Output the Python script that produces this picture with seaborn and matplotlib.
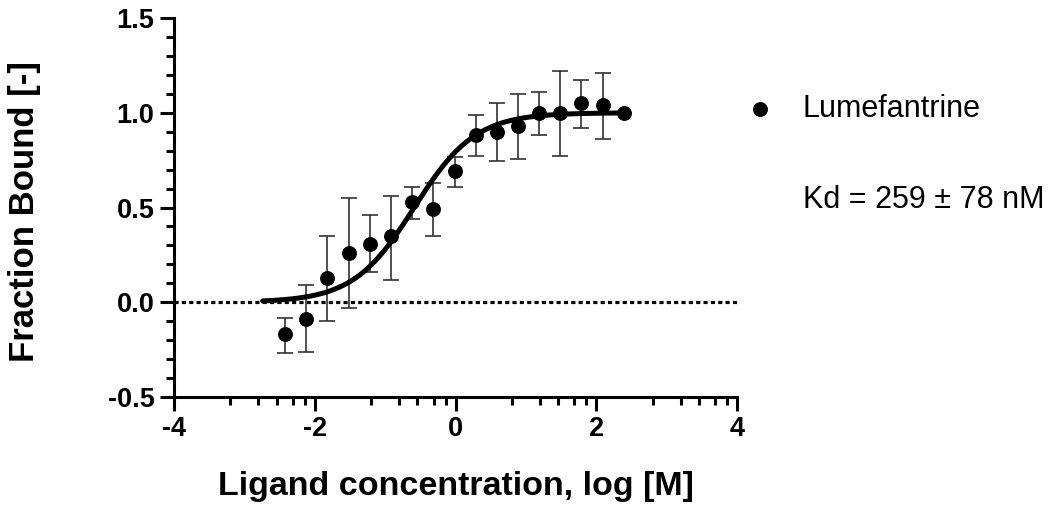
import numpy as np
import pandas as pd
import seaborn as sns
import matplotlib.pyplot as plt
from matplotlib.ticker import FixedLocator, MultipleLocator

# Data (log concentration vs fraction bound)
log_conc = [-2.42, -2.12, -1.82, -1.52, -1.22, -0.92, -0.62, -0.32, -0.01,
            0.29, 0.59, 0.89, 1.19, 1.49, 1.79, 2.09, 2.40]
frac_bound = [-0.17, -0.09, 0.13, 0.26, 0.31, 0.35, 0.53, 0.49, 0.69,
              0.88, 0.90, 0.93, 1.00, 1.00, 1.05, 1.04, 1.00]
err_upper = [-0.085, 0.09, 0.35, 0.55, 0.46, 0.56, 0.61, 0.63, 0.765,
             0.99, 1.05, 1.10, 1.11, 1.22, 1.175, 1.21, 1.00]
err_lower = [-0.27, -0.265, -0.10, -0.03, 0.16, 0.12, 0.44, 0.35, 0.61,
             0.77, 0.745, 0.755, 0.88, 0.77, 0.92, 0.86, 1.00]

series_name = 'Lumefantrine'
kd_text = 'Kd = 259 \u00b1 78 nM'
kd_value = 0.259          # same units as the x axis (log scale)
fit_range = (-2.74, 2.40)

x_major = [-4, -2, 0, 2, 4]
x_minor_offsets = [0.8, 1.2, 1.46, 1.69, 1.86]
y_major = [-0.5, 0.0, 0.5, 1.0, 1.5]

df = pd.DataFrame({'x': log_conc, 'y': frac_bound})
df['lo'] = np.array(frac_bound) - np.array(err_lower)
df['hi'] = np.array(err_upper) - np.array(frac_bound)

# fitted binding curve from the Kd
fit_x = np.linspace(fit_range[0], fit_range[1], 300)
fit_df = pd.DataFrame({'x': fit_x, 'y': 1 / (1 + kd_value / 10 ** fit_x)})

sns.set_style('ticks')
plt.rcParams['font.family'] = ['Liberation Sans', 'DejaVu Sans']
plt.rcParams['text.color'] = 'black'
plt.rcParams['axes.edgecolor'] = 'black'
plt.rcParams['xtick.color'] = 'black'
plt.rcParams['ytick.color'] = 'black'

fig = plt.figure(figsize=(10.5, 5.12), dpi=100)
ax = fig.add_axes([174 / 1050, 1 - 397 / 512, 563 / 1050, 379 / 512])

# zero line
ax.axhline(0, color='black', lw=2.3, dashes=(1.3, 1.0), zorder=1)

# error bars
ax.errorbar(df['x'], df['y'], yerr=[df['lo'], df['hi']], fmt='none',
            ecolor='#333333', elinewidth=1.2, capsize=5.5, capthick=1.2, zorder=2)

# fit curve
sns.lineplot(data=fit_df, x='x', y='y', color='black', lw=3.6, ax=ax, zorder=3)

# points
sns.scatterplot(data=df, x='x', y='y', color='black', s=115, edgecolor='black',
                linewidth=0, ax=ax, zorder=4, label=series_name)

ax.set_xlim(-4, 4)
ax.set_ylim(-0.5, 1.5)
ax.xaxis.set_major_locator(FixedLocator(x_major))
minor = [a + o for a in x_major[:-1] for o in x_minor_offsets]
ax.xaxis.set_minor_locator(FixedLocator(minor))
ax.yaxis.set_major_locator(FixedLocator(y_major))
ax.yaxis.set_minor_locator(MultipleLocator(0.1))
ax.set_yticklabels(['-0.5', '0.0', '0.5', '1.0', '1.5'])
ax.set_xticklabels(['-4', '-2', '0', '2', '4'])

for s in ['top', 'right']:
    ax.spines[s].set_visible(False)
for s in ['left', 'bottom']:
    ax.spines[s].set_linewidth(2.2)
    ax.spines[s].set_color('black')

ax.tick_params(which='major', length=10, width=2.2, direction='out',
               labelsize=19.5, pad=4, color='black', labelcolor='black')
ax.tick_params(which='minor', length=5.5, width=2.2, direction='out', color='black')
for lab in ax.get_xticklabels() + ax.get_yticklabels():
    lab.set_fontweight('bold')

ax.set_xlabel('')
ax.set_ylabel('')
fig.text(456 / 1050, 1 - 487 / 512, 'Ligand concentration, log [M]',
         fontsize=24.5, fontweight='bold', ha='center', va='center')
fig.text(25 / 1050, 1 - 211 / 512, 'Fraction Bound [-]', rotation=90,
         fontsize=25, fontweight='bold', ha='center', va='center')

ax.legend_.remove()
handles, labels = ax.get_legend_handles_labels()
fig.legend(handles, labels, loc='center left', bbox_to_anchor=(744.7 / 1050, 1 - 109 / 512),
           frameon=False, fontsize=22, handlelength=1.0, handletextpad=0.9,
           borderpad=0, borderaxespad=0, markerscale=1.0, labelcolor='black')
fig.text(803 / 1050, 1 - 200 / 512, kd_text, fontsize=22, ha='left', va='center')

fig.savefig('out.png', dpi=100)
